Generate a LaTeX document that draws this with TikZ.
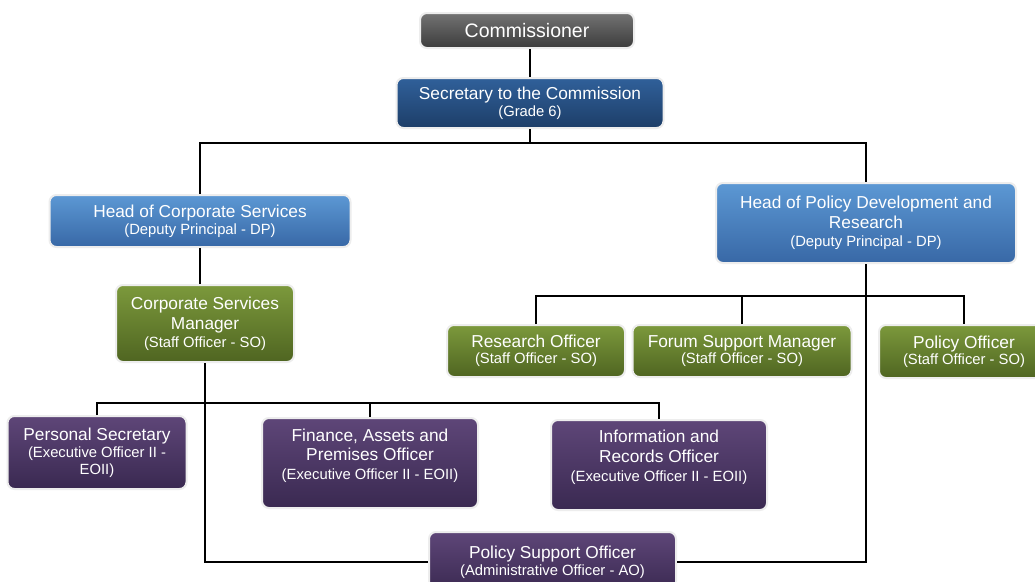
\documentclass[tikz,border=0pt]{standalone}
\usepackage{fontspec}
\setmainfont{Liberation Sans}
\usepackage{xcolor}
\usepackage{tikz}
\usetikzlibrary{calc}

\definecolor{greytop}{HTML}{737373}
\definecolor{greybot}{HTML}{3C3C3C}
\definecolor{navytop}{HTML}{30609A}
\definecolor{navybot}{HTML}{1D3E68}
\definecolor{skytop}{HTML}{5C98D4}
\definecolor{skybot}{HTML}{3868A6}
\definecolor{olivetop}{HTML}{7C993C}
\definecolor{olivebot}{HTML}{4F6521}
\definecolor{plumtop}{HTML}{5E4678}
\definecolor{plumbot}{HTML}{3A2951}

\newcommand{\rolegrade}{\fontsize{14.8}{18}\selectfont}

\begin{document}
\begin{tikzpicture}[x = 1pt, y = -1pt,
	post/.style = {rectangle, rounded corners = 7pt, draw = black!7, line width = 2pt,
		text = white, align = center, inner sep = 0pt, font = \fontsize{17.3}{20}\selectfont},
	link/.style = {draw = black, line width = 2.8pt}]
			\clip (0, 0) rectangle (1035, 581);
			\fill [white] (0, 0) rectangle (1035, 581);
			
			\begin{scope}[every node/.style = {post, top color = greytop, bottom color = greybot}]
			\node (comm) [minimum width = 214pt, minimum height = 35pt, font = \fontsize{19.5}{22}\selectfont] at (527, 30.5) {Commissioner};
			\end{scope}
			
			\begin{scope}[every node/.style = {post, top color = navytop, bottom color = navybot}]
			\node (sec) [minimum width = 267pt, minimum height = 50pt] at (530, 103) {Secretary to the Commission\\[-3pt]{\rolegrade (Grade 6)}};
			\end{scope}
			
			\begin{scope}[every node/.style = {post, top color = skytop, bottom color = skybot}]
			\node (hcs) [minimum width = 301pt, minimum height = 52pt] at (200, 221) {Head of Corporate Services\\[-3pt]{\rolegrade (Deputy Principal - DP)}};
			\node (hpd) [minimum width = 300pt, minimum height = 80pt] at (866, 223) {Head of Policy Development and\\Research\\[-2pt]{\rolegrade (Deputy Principal - DP)}};
			\end{scope}
			
			\begin{scope}[every node/.style = {post, top color = olivetop, bottom color = olivebot}]
			\node (csm) [minimum width = 178pt, minimum height = 77pt] at (205, 323.5) {Corporate Services\\Manager\\[-2pt]{\rolegrade (Staff Officer - SO)}};
			\node (ro) [minimum width = 178pt, minimum height = 52pt] at (536, 351) {Research Officer\\[-4pt]{\rolegrade (Staff Officer - SO)}};
			\node (fsm) [minimum width = 219pt, minimum height = 52pt] at (742, 351) {Forum Support Manager\\[-4pt]{\rolegrade (Staff Officer - SO)}};
			\node (po) [minimum width = 170pt, minimum height = 53pt] at (964, 351.5) {Policy Officer\\[-4pt]{\rolegrade (Staff Officer - SO)}};
			\end{scope}
			
			\begin{scope}[every node/.style = {post, top color = plumtop, bottom color = plumbot}]
			\node (ps) [minimum width = 179pt, minimum height = 73pt] at (97, 452.5) {Personal Secretary\\[-3pt]{\rolegrade (Executive Officer II -}\\[-3pt]{\rolegrade EOII)}};
			\node (fap) [minimum width = 216pt, minimum height = 90pt, text depth = 18pt] at (370, 463) {Finance, Assets and\\[-1pt]Premises Officer\\[-1pt]{\rolegrade (Executive Officer II - EOII)}};
			\node (irc) [minimum width = 216pt, minimum height = 90pt, text depth = 18pt] at (659, 465) {Information and\\Records Officer\\[-1pt]{\rolegrade (Executive Officer II - EOII)}};
			\node (pso) [minimum width = 247pt, minimum height = 60pt] at (552.5, 562) {Policy Support Officer\\[-3pt]{\rolegrade (Administrative Officer - AO)}};
			\end{scope}
			
			% top of the tree
			\draw [link] (sec.north) -- (sec.north |- comm.south);
			\draw [link] (sec.south) -- ++(0, 14) coordinate (split) -| (hcs.north);
			\draw [link] (split) -| (hpd.north);
			
			% corporate side
			\draw [link] (hcs.south) -- (hcs.south |- csm.north);
			\draw [link] (csm.south) ++(0, 40) coordinate (lbus);
			\draw [link] (ps.north) |- (lbus) -| (irc.north);
			\draw [link] (fap.north) -- (fap.north |- lbus);
			\draw [link] (csm.south) |- (pso.west);
			
			% policy side
			\draw [link] (hpd.south) ++(0, 32) coordinate (rbus);
			\draw [link] (ro.north) |- (rbus) -| (po.north);
			\draw [link] (fsm.north) -- (fsm.north |- rbus);
			\draw [link] (hpd.south) |- (pso.east);
			
			\end{tikzpicture}
\end{document}
